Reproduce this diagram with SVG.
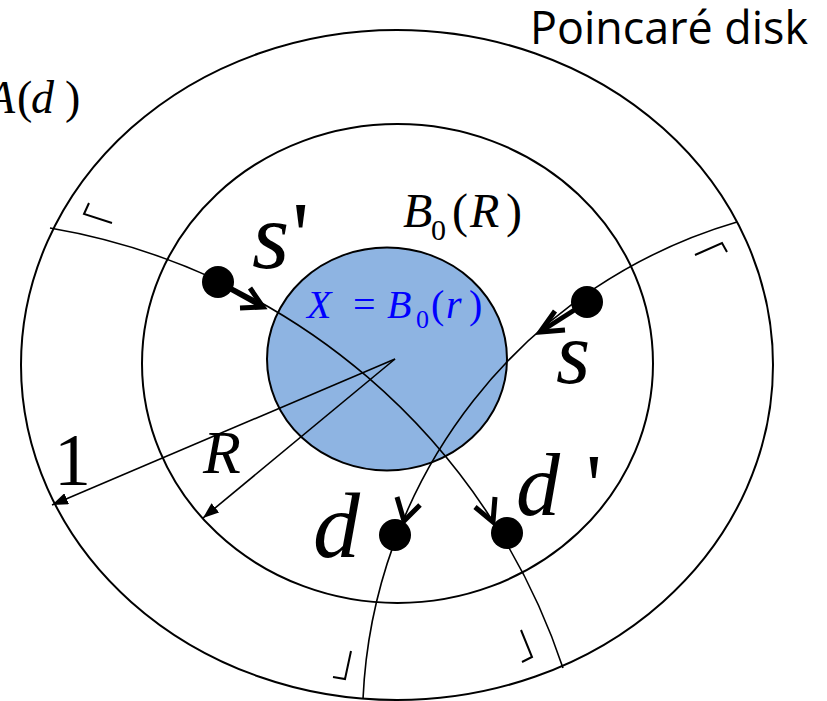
<svg xmlns="http://www.w3.org/2000/svg" width="827" height="701" viewBox="0 0 827 701">
<style>
.ring{fill:none;stroke:#000;stroke-width:2}
.geo{fill:none;stroke:#000;stroke-width:1.6}
.mark{fill:none;stroke:#000;stroke-width:2}
.thick{fill:none;stroke:#000;stroke-width:5;stroke-linecap:butt;stroke-linejoin:miter}
.dot{fill:#000}
.m{font-family:"Liberation Serif","Times New Roman",serif;fill:#000}
.i{font-style:italic}
.blue{fill:#0000FF}
</style>
<defs>
<marker id="tri" viewBox="0 0 16 12" refX="16" refY="6" markerWidth="16" markerHeight="12" orient="auto" markerUnits="userSpaceOnUse">
<path d="M0,0 L16,6 L0,12 z" fill="#000"/>
</marker>
</defs>
<rect width="827" height="701" fill="#fff"/>
<g id="outer-disk"><ellipse class="ring" cx="397" cy="365" rx="376" ry="335"/></g>
<g id="ball-R"><ellipse class="ring" cx="397.5" cy="363.5" rx="255.5" ry="239.5"/></g>
<g id="ball-r"><ellipse cx="387" cy="359" rx="120" ry="111.5" fill="#8EB4E2" stroke="#000" stroke-width="2"/></g>
<g id="connectors">
<path class="geo" d="M50,228 A657,657 0 0 1 563,668"/>
<path class="geo" d="M737,222 A521,521 0 0 0 363,699"/>
<line class="geo" x1="395" y1="359" x2="52" y2="505" marker-end="url(#tri)"/>
<line class="geo" x1="395" y1="359" x2="203" y2="518" marker-end="url(#tri)"/>
<line class="thick" x1="218" y1="282" x2="261" y2="306"/>
<polyline class="thick" points="250,288 263,307 240,308"/>
<line class="thick" x1="587" y1="302" x2="543" y2="330"/>
<polyline class="thick" points="555,311 540,332 565,330"/>
<polyline class="thick" points="397,497 404,521 420,505"/>
<polyline class="thick" points="475,507 493,522 495,497"/>
<polyline class="mark" points="89,203 84,214 112,223"/>
<polyline class="mark" points="695,255 722,243 727,252"/>
<polyline class="mark" points="351,651 345,679 333,677"/>
<polyline class="mark" points="521,630 532,657 522,662"/>
</g>
<g id="s-prime"><circle class="dot" cx="218" cy="282" r="16"/><text class="m" font-size="96" y="268"><tspan class="i" x="252">s</tspan><tspan x="292">'</tspan></text></g>
<g id="s"><circle class="dot" cx="587" cy="302" r="16"/><text class="m i" font-size="88" x="556" y="383">s</text></g>
<g id="d"><circle class="dot" cx="395" cy="535" r="16"/><text class="m i" font-size="94" x="313" y="557">d</text></g>
<g id="d-prime"><circle class="dot" cx="507" cy="533" r="16"/><text class="m" font-size="88" y="515"><tspan class="i" x="516">d</tspan><tspan x="586">'</tspan></text></g>
<g id="labels">
<text class="m" font-size="74" x="54" y="485">1</text>
<text class="m i" font-size="62" x="203" y="473">R</text>
<text class="m" font-size="48" y="227"><tspan class="i" x="403">B</tspan><tspan font-size="30" x="431" y="240">0</tspan><tspan x="452" y="227">(</tspan><tspan class="i" x="470">R</tspan><tspan x="506">)</tspan></text>
<text class="m blue" font-size="40" y="318"><tspan class="i" x="307">X</tspan><tspan x="353">=</tspan><tspan class="i" x="387">B</tspan><tspan font-size="26" x="416" y="328">0</tspan><tspan x="431" y="318">(</tspan><tspan class="i" x="446">r</tspan><tspan x="469">)</tspan></text>
<text class="m" font-size="46" y="113"><tspan class="i" x="-13">A</tspan><tspan x="17">(</tspan><tspan class="i" x="31">d</tspan><tspan x="65">)</tspan></text>
<text font-family="'Open Sans','Noto Sans',sans-serif" font-size="45" x="530" y="44" textLength="278" lengthAdjust="spacingAndGlyphs">Poincaré disk</text>
</g>
</svg>
